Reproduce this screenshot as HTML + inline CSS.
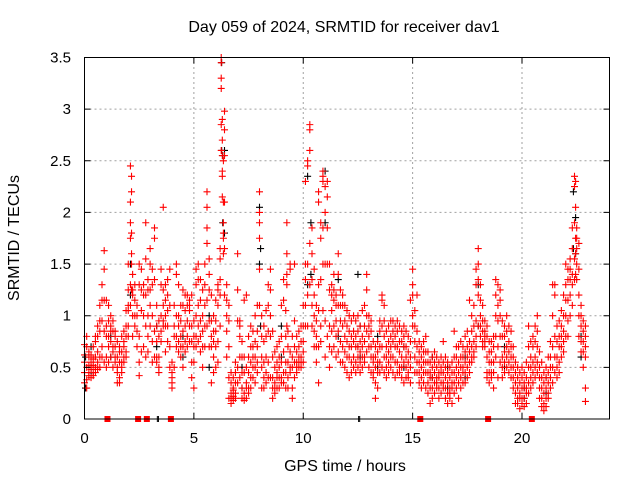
<!DOCTYPE html>
<html><head><meta charset="utf-8"><style>
body{margin:0;background:#fff;}
svg{display:block;font-family:"Liberation Sans",sans-serif;}
</style></head><body>
<svg id="chart" width="640" height="480" xmlns="http://www.w3.org/2000/svg">
<rect width="640" height="480" fill="#fff"/>
<text x="344" y="32" font-size="16" text-anchor="middle" fill="#000">Day 059 of 2024, SRMTID for receiver dav1</text>
<text transform="translate(19,238) rotate(-90)" font-size="16" text-anchor="middle" fill="#000">SRMTID / TECUs</text>
<text x="345" y="471" font-size="16" text-anchor="middle" fill="#000">GPS time / hours</text>
<g id="grid"></g>
<g id="black"></g>
<g id="red"></g>
<rect x="84.5" y="57.5" width="525" height="361.5" fill="none" stroke="#000" stroke-width="1"/>
<g id="axes"></g>
</svg>
<script>
const xTicks=[0,5,10,15,20];
const yTicks=[0,0.5,1,1.5,2,2.5,3,3.5];
const yTickLabels=["0","0.5","1","1.5","2","2.5","3","3.5"];
const redTimes=[0,0.1,0.2,0.3,0.4,0.5,0.6,0.7,0.8,0.9,1.0,1.1,1.2,1.3,1.4,1.5,1.6,1.7,1.8,1.9,2.0,2.1,2.15,2.2,2.3,2.4,2.5,2.6,2.7,2.8,2.9,3.0,3.1,3.2,3.3,3.4,3.5,3.6,3.7,3.8,3.9,4.0,4.1,4.2,4.3,4.4,4.5,4.6,4.7,4.8,4.9,5.0,5.1,5.2,5.3,5.4,5.5,5.6,5.7,5.8,5.9,6.0,6.1,6.2,6.25,6.3,6.35,6.4,6.5,6.6,6.7,6.8,6.9,7.0,7.1,7.2,7.3,7.4,7.5,7.6,7.7,7.8,7.9,8.0,8.1,8.2,8.3,8.4,8.5,8.6,8.7,8.8,8.9,9.0,9.1,9.2,9.25,9.3,9.4,9.5,9.6,9.7,9.8,9.9,10.0,10.1,10.2,10.3,10.4,10.5,10.6,10.7,10.8,10.9,11.0,11.1,11.2,11.3,11.4,11.5,11.6,11.7,11.8,11.9,12.0,12.1,12.2,12.3,12.4,12.5,12.6,12.7,12.8,12.9,13.0,13.1,13.2,13.3,13.4,13.5,13.6,13.7,13.8,13.9,14.0,14.1,14.2,14.3,14.4,14.5,14.6,14.7,14.8,14.9,15.0,15.1,15.2,15.3,15.4,15.5,15.6,15.7,15.8,15.9,16.0,16.1,16.2,16.3,16.4,16.5,16.6,16.7,16.8,16.9,17.0,17.1,17.2,17.3,17.4,17.5,17.6,17.7,17.8,17.9,18.0,18.1,18.2,18.3,18.4,18.5,18.6,18.7,18.8,18.9,19.0,19.1,19.2,19.3,19.4,19.5,19.6,19.7,19.8,19.9,20.0,20.1,20.2,20.3,20.4,20.5,20.6,20.7,20.8,20.9,21.0,21.1,21.2,21.3,21.4,21.5,21.6,21.7,21.8,21.9,22.0,22.1,22.2,22.3,22.4,22.45,22.5,22.6,22.7,22.8,22.9];
const redValues=[
[.62,.72,.55,.45,.35],[.7,.5,.38,.3,.8],[.6,.45,.42,.52,.65],[.55,.48,.4,.62,.5],[.58,.45,.7,.52,.42],[.75,.5,.6,.45,.8],[.8,.55,.65,.9,.48],[.85,.6,.95,1.1,.5],[1.15,.95,.7,1.3,.6],[1.63,1.45,1.15,.85,.55],
[1.15,.9,.8,.6,.5],[1.1,.95,.8,.7,.55],[1.0,.85,.75,.6,.9],[.95,.85,.7,.65,.5],[.85,.7,.6,.55,.8],[.75,.6,.5,.45,.35],[.7,.55,.4,.35,.65],[.8,.65,.55,.5,.45],[.85,.75,.6,.55,.7],[.9,.8,.65,.6,1.05],
[1.25,1.1,.9,.8,1.05,1.5],[2.45,2.1,1.9,1.75,1.3,1.1],[2.35,2.2,1.8,1.6,1.5,1.25],[1.4,1.25,1.2,1.0,.8],[1.3,1.15,1.0,.9],[1.1,1.0,.85,.7],[1.5,1.3,.8,.55,.42],[1.45,1.25,1.05,.65],[1.3,1.2,1.0,.7],[1.9,1.55,1.2,.9,.6],[1.35,1.25,1.0,.8,.65],
[1.65,1.5,1.25,1.1,.9],[1.45,1.3,1.0,.75,.55],[1.85,1.75,1.35,.85,.6],[1.1,.9,.75,.6,.55],[.8,.6,.5,.45,.95],[1.45,1.3,1.0,.85,.75],[2.05,1.25,1.1,.9,.95],[1.3,1.15,1.0,.9,.65],[1.35,1.2,1.05,.9,.75],[1.45,1.1,.7,.5],
[.55,.45,.35,.3,.4],[1.1,.9,.8,.5],[1.5,1.4,1.0,.8,.7],[1.3,1.0,.9,.75,.65],[1.1,.95,.8,.7,.6],[1.25,1.1,.85,.7,.5],[1.2,1.05,.9,.75,.65],[1.2,1.1,.95,.8,.7],[1.15,1.1,1.05,.9,.75],[1.2,.9,.75,.55,.4],
[.95,.8,.7,.55,.3],[1.45,1.3,1.0,.8,.7],[1.5,1.35,1.1,.9,.75],[1.35,1.15,.95,.8,.65],[1.25,1.0,.85,.7,.5],[1.5,1.3,1.1,.9,.7],[2.2,2.05,1.85,1.7,1.15,.9],[1.55,1.4,1.25,.95,.7],[1.2,.95,.8,.7,.35],[1.0,.85,.75,.6,.45],
[1.15,.95,.85,.7,.5],[1.3,1.25,1.1,.75,.55],[1.65,1.55,1.35,1.2,.9],[3.5,3.45,3.3,3.2,2.85,2.6],[2.9,2.7,2.55,2.4,2.35,2.15],[2.5,2.1,1.9,1.8,1.75,1.6],[2.98,2.8,2.55,2.1,1.65,1.2],[1.3,1.15,1.0,.85,.6],[1.1,.95,.7,.4,.2],[.45,.35,.25,.2,.15],[.4,.3,.22,.18,.28],[.55,.45,.35,.25,.2],
[1.6,1.25,.95,.5,.35],[.95,.9,.8,.6,.4],[.75,.6,.45,.3,.2],[1.15,.6,.45,.25,.18],[1.2,.5,.35,.2,.3],[.8,.6,.45,.3,.25],[.9,.7,.55,.4,.3],[.85,.7,.6,.5,.4],[1.0,.75,.6,.5,.35],[1.1,.85,.7,.55,.45],
[2.2,2.0,1.9,1.75,1.45,1.1],[1.0,.8,.6,.5,.3],[.9,.75,.55,.4,.3],[1.05,.8,.6,.45,.35],[1.3,1.1,.85,.55,.4],[1.45,1.25,1.0,.8,.4],[.85,.6,.4,.3,.2],[.65,.5,.35,.25,.3],[.7,.55,.4,.3,.45],[.75,.6,.5,.4,.3],
[1.1,.8,.55,.4,.35],[1.35,1.15,.65,.45,.35],[1.05,.8,.55,.45,.3],[1.9,1.6,1.4,1.3,.9],[.85,.7,.55,.4,.3],[1.5,1.45,.65,.5,.45],[.8,.6,.5,.3,.2],[1.5,.95,.7,.55,.4],[.8,.65,.55,.45,.5],[.85,.7,.6,.55,.5],[.9,.75,.6,.55,.5],
[1.1,.9,.75,.65,.55],[2.3,1.5,1.35,1.1,.9],[2.5,2.45,1.5,1.2,.9],[2.85,2.8,2.6,1.7,1.3],[1.85,1.6,1.35,1.1,.9],[1.45,1.2,1.0,.85,.7],[1.1,.95,.8,.7,.55],[2.2,2.1,1.3,1.05,.7,.35],[1.9,1.75,1.35,.9,.75],[2.4,2.35,2.3,1.85,1.5,1.05],
[2.25,2.0,1.5,.95,.6],[2.3,2.15,1.85,1.5,.8],[1.5,1.25,.9,.7,.5],[1.3,1.2,1.05,.85,.65],[1.4,1.25,1.15,.9,.7],[1.2,1.1,.95,.8,.6],[1.6,1.4,1.1,.85,.65],[1.25,1.1,.95,.75,.55],[1.2,1.1,.9,.7,.55],[1.1,.95,.8,.65,.5],
[1.05,.9,.75,.6,.45],[1.0,.85,.7,.6,.4],[.95,.8,.7,.55,.45],[1.0,.85,.75,.6,.5],[.95,.8,.7,.55,.45],[1.0,.85,.7,.6,.5],[.9,.75,.65,.55,.45],[1.05,.8,.7,.6,.5],[1.1,.9,.75,.6,.55],[1.4,1.25,1.0,.85,.65],
[1.0,.9,.8,.7,.5],[.95,.85,.7,.6,.45],[.75,.6,.55,.45,.4],[.7,.6,.5,.35,.2],[.75,.65,.55,.45,.3],[.95,.85,.7,.55,.45],[1.2,1.15,.9,.7,.5],[1.1,.95,.8,.6,.45],[.85,.7,.6,.5,.4],[.9,.75,.65,.55,.45],
[.95,.8,.7,.6,.5],[.95,.85,.75,.6,.45],[.9,.8,.7,.55,.4],[.95,.85,.7,.55,.45],[.9,.75,.65,.5,.45],[.85,.75,.6,.5,.4],[.9,.8,.7,.55,.35],[.85,.7,.6,.5,.4],[.8,.65,.55,.45,.4],[1.15,.75,.6,.5,.35],
[1.45,1.3,1.2,1.0,.9],[1.05,.9,.75,.6,.45],[1.2,.85,.7,.55,.45],[.75,.65,.55,.45,.35],[.7,.6,.5,.4,.3],[.75,.65,.55,.45,.35],[.8,.65,.55,.45,.3],[.65,.55,.45,.35,.25],[.55,.45,.4,.3,.15],[.6,.5,.4,.3,.2],
[.65,.55,.45,.35,.25],[.6,.5,.4,.35,.3],[.55,.45,.4,.3,.2],[.6,.5,.45,.35,.25],[.75,.55,.45,.35,.3],[.6,.5,.4,.3,.2],[.55,.45,.35,.25,.15],[.5,.4,.3,.25,.2],[.55,.45,.35,.3,.15],[.85,.6,.45,.35,.25],
[.7,.6,.5,.4,.3],[.7,.55,.45,.35,.2],[.75,.6,.5,.4,.3],[.7,.6,.5,.45,.35],[.8,.65,.55,.45,.35],[.85,.7,.6,.5,.4],[1.15,.75,.65,.55,.45],[1.0,.85,.7,.6,.55],[1.1,.9,.75,.65,.6],[1.45,1.3,.95,.8,.7],
[1.65,1.5,1.35,1.2,.9],[1.3,1.15,1.0,.9,.8],[1.1,.95,.85,.75,.7],[.95,.85,.8,.75,.7],[.9,.8,.6,.45,.4],[.75,.65,.55,.45,.35],[.75,.65,.55,.45,.4],[.8,.7,.55,.45,.3],[1.35,1.2,1.0,.8,.6],[1.3,1.1,.95,.7,.4],
[1.25,1.15,1.0,.8,.55],[.95,.8,.6,.5,.4],[.9,.8,.65,.55,.45],[1.0,.85,.7,.6,.5],[.9,.75,.65,.55,.45],[.85,.7,.6,.5,.4],[.7,.6,.5,.4,.3],[.55,.45,.35,.25,.15],[.5,.4,.3,.2,.15],[.45,.35,.25,.2,.1],
[.5,.4,.3,.2,.15],[.45,.35,.3,.2,.12],[.55,.4,.3,.25,.15],[.9,.7,.5,.35,.25],[.75,.6,.5,.4,.3],[.8,.7,.55,.45,.35],[.9,.75,.6,.5,.4],[1.0,.85,.7,.55,.45],[.65,.5,.4,.3,.2],[.55,.4,.3,.2,.12],
[.45,.35,.25,.15,.08],[.5,.4,.3,.2,.12],[.6,.45,.35,.25,.2],[.75,.6,.5,.4,.3],[1.3,1.0,.7,.5,.35],[1.3,1.2,.8,.6,.45],[.9,.75,.6,.5,.4],[.95,.8,.7,.55,.45],[1.05,.9,.8,.7,.6],[1.2,1.0,.85,.75,.65],
[1.5,1.3,1.15,1.0,.8],[1.45,1.35,1.15,.95,.8],[1.55,1.45,1.35,1.2,1.0],[1.85,1.65,1.4,1.3,1.1],[2.35,2.25,1.9,1.55,1.35],[2.3,2.05,1.75,1.6,1.4],[1.85,1.75,1.65,1.5,1.35],[1.7,1.45,1.2,1.0,.8],[1.1,1.0,.9,.75,.65],[.95,.85,.75,.65,.5],[.9,.8,.7,.6,.3,.17]
];
const blackTimes=[0.05,0.3,1.2,2.1,3.3,4.5,5.7,6.27,6.32,6.4,7.2,8.0,8.05,9.0,10.2,10.35,11.0,11.6,12.5,12.6,13.4,14.6,15.9,16.6,17.4,18.0,19.2,20.1,21.1,22.35,22.45,22.7];
const blackValues=[
[.3,.6],[.45,.7],[.8,.6],[1.5,1.2],[.7,.9],[.8,.6],[1.0,.5],[3.45,2.6],[2.55,1.9],[2.6,1.8],[.3,.5],[2.05,1.5],[1.65,.9],[.6,.9],[2.35,1.3],[1.9,1.4],[2.4,1.9],[1.35,.8],[1.4,.7],[.9,.6],[.5,.8],[.7,.5],[.4,.6],[.3,.5],[.6,.4],[1.3,.9],[.7,.5],[.3,.2],[.25,.4],[2.2,1.65],[1.95,1.6],[.8,.6]
];
const zeroTimes=[1.05,2.45,2.85,3.95,15.35,18.45,20.45];
const blackZeroTimes=[3.33,3.38,12.53,12.58];

const NS="http://www.w3.org/2000/svg";
const X0=84.5,X1=609.5,Y0=419,Y1=57.5,XMAX=24,YMAX=3.5;
function xs(t){return X0+(X1-X0)*t/XMAX;}
function ys(v){return Y0-(Y0-Y1)*v/YMAX;}
function mk(tag,attrs,parent){const e=document.createElementNS(NS,tag);for(const k in attrs)e.setAttribute(k,attrs[k]);parent.appendChild(e);return e;}
const grid=document.getElementById('grid'),axes=document.getElementById('axes');
xTicks.forEach((t,i)=>{
  const x=xs(t);
  if(t>0){const g=mk('line',{x1:x,y1:Y0,x2:x,y2:Y1,stroke:'#a0a0a0','stroke-dasharray':'2,3','stroke-width':1},grid);
  
  }
  const tk=mk('path',{d:`M${x},${Y0}v-6M${x},${Y1}v6`,stroke:'#000'},axes);
  
  
  const lb=mk('text',{x:x,y:443,'font-size':15,'text-anchor':'middle',fill:'#000'},axes);
  lb.textContent=String(t);
  
  
});
yTicks.forEach((v,i)=>{
  const y=ys(v);
  if(v>0&&v<YMAX){const g=mk('line',{x1:X0,y1:y,x2:X1,y2:y,stroke:'#a0a0a0','stroke-dasharray':'2,3','stroke-width':1},grid);
  
  }
  const tk=mk('path',{d:`M${X0},${y}h6M${X1},${y}h-6`,stroke:'#000'},axes);
  
  
  const lb=mk('text',{x:71,y:y+5,'font-size':15,'text-anchor':'end',fill:'#000'},axes);
  lb.textContent=yTickLabels[i];
  
  
});
function cross(g,t,v,color,name){
  const x=xs(t),y=ys(v);
  const p=mk('path',{d:`M${x-3.5},${y}h7M${x},${y-3.5}v7`,stroke:color,'stroke-width':1.1},g);
  
  
}
const bg=document.getElementById('black'),rg=document.getElementById('red');
blackTimes.forEach((t,i)=>blackValues[i].forEach(v=>cross(bg,t,v,'#000','black-point')));
blackZeroTimes.forEach(t=>{const x=xs(t);const p=mk('path',{d:`M${x},${Y0-3}v6`,stroke:'#000'},bg);
  
  });
redTimes.forEach((t,i)=>redValues[i].forEach(v=>cross(rg,t,v,'#f00','red-point')));
zeroTimes.forEach(t=>{const x=xs(t);const r=mk('rect',{x:x-3,y:Y0-3,width:6,height:6,fill:'#f00'},rg);
  
  });
</script>
</body></html>
